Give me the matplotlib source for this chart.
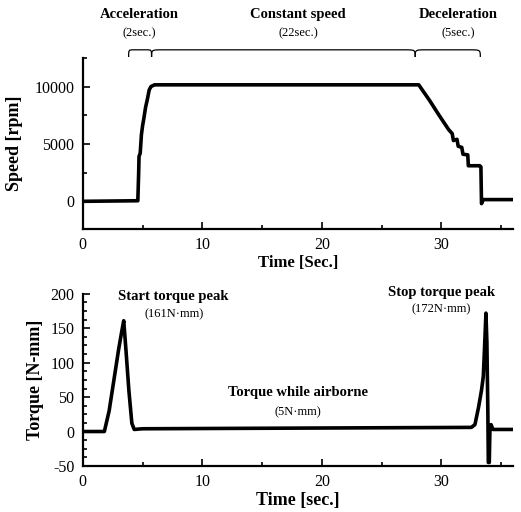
import matplotlib
matplotlib.use("Agg")
import matplotlib.pyplot as plt
from matplotlib.path import Path
from matplotlib.patches import PathPatch
from matplotlib.ticker import MultipleLocator
import matplotlib.transforms as mtransforms

plt.rcParams['font.family'] = ['Liberation Serif', 'DejaVu Serif']
plt.rcParams['axes.unicode_minus'] = False

# speed trace (top)
speed_t = [0, 4.6, 4.67, 4.7, 4.8, 4.9, 5.0, 5.1, 5.25, 5.4, 5.55, 5.7, 6.0,
           28.1, 29.0, 29.8, 30.6, 30.9, 31.0, 31.3, 31.4, 31.7, 31.8, 32.2,
           32.25, 33.2, 33.3, 33.35, 33.5, 36.0]
speed = [0, 50, 2500, 3900, 4200, 5800, 6600, 7200, 8200, 8900, 9700, 10000,
         10150, 10150, 8800, 7500, 6250, 5900, 5300, 5400, 4800, 4700, 4100,
         4050, 3100, 3100, 3000, -200, 150, 150]

# torque trace (bottom)
torque_t = [0, 1.8, 2.2, 2.6, 3.0, 3.25, 3.42, 3.6, 3.85, 4.1, 4.3, 5.0,
            32.5, 32.8, 33.1, 33.35, 33.5, 33.6, 33.72, 33.8, 33.88, 33.92,
            34.0, 34.05, 34.15, 34.3, 36.0]
torque = [0, 0, 30, 75, 120, 145, 161, 120, 60, 12, 3, 4,
          6, 10, 35, 60, 80, 120, 172, 130, 30, -45,
          -45, 0, 10, 3, 3]

# phase braces (start, end) in seconds
phases = ["Acceleration", "Constant speed", "Deceleration"]
phase_dur = ["(2sec.)", "(22sec.)", "(5sec.)"]
brace_x = [(3.83, 5.75), (5.75, 27.8), (27.8, 33.25)]
phase_label_x = [4.7, 18.0, 31.4]

fig = plt.figure(figsize=(5.21, 5.12), dpi=100)
ax1 = fig.add_axes([0.159, 0.553, 0.826, 0.334])
ax2 = fig.add_axes([0.159, 0.090, 0.826, 0.336])

for ax in (ax1, ax2):
    ax.spines['top'].set_visible(False)
    ax.spines['right'].set_visible(False)
    ax.spines['left'].set_linewidth(1.6)
    ax.spines['bottom'].set_linewidth(1.6)
    ax.tick_params(which='both', direction='in', labelsize=11.5, width=1.2)
    ax.tick_params(which='major', length=5, pad=6)
    ax.tick_params(which='minor', length=3)
    ax.set_xlim(0, 36)
    ax.xaxis.set_major_locator(MultipleLocator(10))
    ax.xaxis.set_minor_locator(MultipleLocator(5))

ax1.plot(speed_t, speed, color='black', lw=2.6)
ax1.set_ylim(-2400, 12500)
ax1.yaxis.set_major_locator(MultipleLocator(5000))
ax1.yaxis.set_minor_locator(MultipleLocator(2500))
ax1.set_ylabel('Speed [rpm]', fontsize=13, fontweight='bold', labelpad=8)
ax1.set_xlabel('Time [Sec.]', fontsize=12, fontweight='bold', labelpad=1)

ax2.plot(torque_t, torque, color='black', lw=2.6)
ax2.set_ylim(-50, 200)
ax2.yaxis.set_major_locator(MultipleLocator(50))
ax2.yaxis.set_minor_locator(MultipleLocator(12.5))
ax2.set_ylabel('Torque [N-mm]', fontsize=13, fontweight='bold', labelpad=5)
ax2.set_xlabel('Time [sec.]', fontsize=13, fontweight='bold', labelpad=1)

# braces above the speed plot
trans = mtransforms.blended_transform_factory(ax1.transData, ax1.transAxes)
y_lo, y_hi = 1.005, 1.047
for (x0, x1) in brace_x:
    c = min(0.9, (x1 - x0) * 0.22)
    verts = [(x0, y_lo), (x0, y_hi), (x0, y_hi), (x0 + c, y_hi),
             (x1 - c, y_hi), (x1, y_hi), (x1, y_hi), (x1, y_lo)]
    codes = [Path.MOVETO, Path.CURVE4, Path.CURVE4, Path.CURVE4,
             Path.LINETO, Path.CURVE4, Path.CURVE4, Path.CURVE4]
    ax1.add_patch(PathPatch(Path(verts, codes), fill=False, lw=0.9,
                            transform=trans, clip_on=False))

for name, dur, xl in zip(phases, phase_dur, phase_label_x):
    ax1.text(xl, 1.255, name, transform=trans, ha='center', va='center',
             fontsize=10.5, fontweight='bold')
    ax1.text(xl, 1.145, dur, transform=trans, ha='center', va='center',
             fontsize=9)

# torque annotations
ax2.text(7.6, 196, 'Start torque peak', ha='center', va='center',
         fontsize=10.5, fontweight='bold')
ax2.text(7.6, 170, '(161N\u00b7mm)', ha='center', va='center', fontsize=9)
ax2.text(18.0, 56, 'Torque while airborne', ha='center', va='center',
         fontsize=10.5, fontweight='bold')
ax2.text(18.0, 28, '(5N\u00b7mm)', ha='center', va='center', fontsize=9)
ax2.text(30.0, 202, 'Stop torque peak', ha='center', va='center',
         fontsize=10.5, fontweight='bold', clip_on=False)
ax2.text(30.0, 178, '(172N\u00b7mm)', ha='center', va='center', fontsize=9)

fig.savefig('out.png', dpi=100)
